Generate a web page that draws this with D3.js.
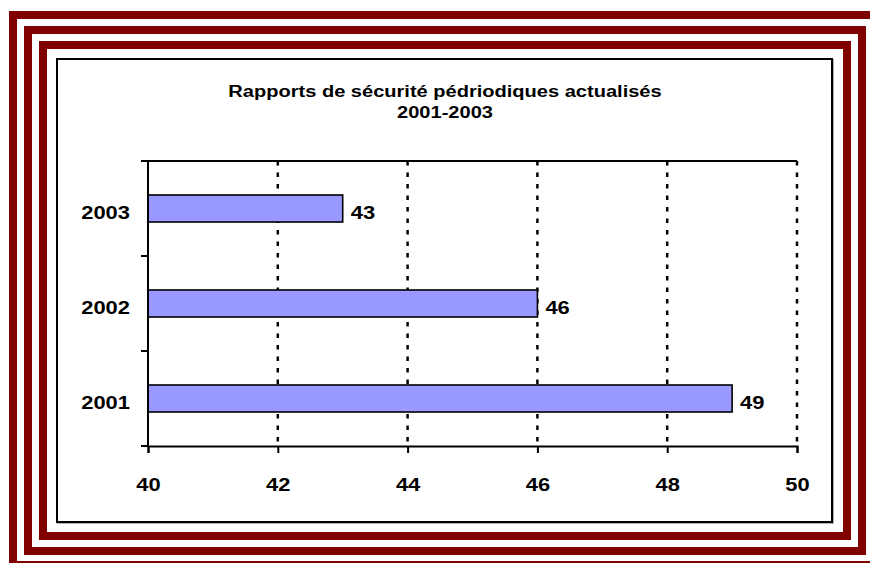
<!DOCTYPE html>
<html>
<head>
<meta charset="utf-8">
<script src="https://cdn.jsdelivr.net/npm/d3@7"></script>
<style>
  body { margin: 0; background: #fff; }
  svg { display: block; }
</style>
</head>
<body>
<svg id="chart" width="870" height="563"></svg>
<script>
// donnees
const years = ["2003", "2002", "2001"];
const reports = [43, 46, 49];
const xTicks = [40, 42, 44, 46, 48, 50];
const titleLines = ["Rapports de sécurité pédriodiques actualisés", "2001-2003"];

const svg = d3.select("#chart");
const font = "'Liberation Sans', Arial, sans-serif";
const stretch = "scale(1.18,1)"; // le texte de l'original est un peu elargi
const labelSize = 18.6;

// cadres rouges
const frames = [
  { x: 13, y: 15, w: 861, h: 550 },
  { x: 28, y: 30, w: 834, h: 521 },
  { x: 43, y: 45, w: 804, h: 491 }
];
svg.selectAll("rect.frame")
  .data(frames)
  .enter()
  .append("rect")
  .attr("class", "frame")
  .attr("x", d => d.x)
  .attr("y", d => d.y)
  .attr("width", d => d.w)
  .attr("height", d => d.h)
  .attr("fill", "none")
  .attr("stroke", "#800000")
  .attr("stroke-width", 8);

// boite du graphique (avec petite ombre grise)
svg.append("rect")
  .attr("x", 58).attr("y", 60).attr("width", 775).attr("height", 463)
  .attr("fill", "none").attr("stroke", "#b0b0b0").attr("stroke-width", 2);
svg.append("rect")
  .attr("x", 57).attr("y", 59).attr("width", 775).attr("height", 463)
  .attr("fill", "#fff").attr("stroke", "#000").attr("stroke-width", 2);

// titre
svg.append("text")
  .attr("transform", `translate(445,97) ${stretch}`)
  .attr("text-anchor", "middle")
  .attr("font-family", font).attr("font-weight", "bold").attr("font-size", 17)
  .selectAll("tspan")
  .data(titleLines)
  .enter()
  .append("tspan")
  .attr("x", 0)
  .attr("dy", (d, i) => i === 0 ? 0 : 21)
  .text(d => d);

const plotL = 148, plotR = 797, plotT = 161, plotB = 446;

const x = d3.scaleLinear().domain([40, 50]).range([plotL, plotR]);
const y = d3.scaleBand().domain(years).range([plotT, plotB]);
const barH = 27;

const g = svg.append("g");

// lignes de quadrillage pointillees
g.selectAll("line.grid")
  .data(xTicks.slice(1))
  .enter()
  .append("line")
  .attr("class", "grid")
  .attr("x1", d => x(d)).attr("x2", d => x(d))
  .attr("y1", plotT).attr("y2", plotB)
  .attr("stroke", "#000")
  .attr("stroke-width", 2.5)
  .attr("stroke-dasharray", "4.5,7");

// bord superieur
g.append("line")
  .attr("x1", plotL).attr("x2", plotR)
  .attr("y1", plotT).attr("y2", plotT)
  .attr("stroke", "#000").attr("stroke-width", 2);

// barres
g.selectAll("rect.bar")
  .data(reports)
  .enter()
  .append("rect")
  .attr("class", "bar")
  .attr("x", x(40))
  .attr("y", (d, i) => y(years[i]) + y.bandwidth() / 2 - barH / 2)
  .attr("width", d => x(d) - x(40))
  .attr("height", barH)
  .attr("fill", "#9999ff")
  .attr("stroke", "#000")
  .attr("stroke-width", 1.6);

// etiquettes des valeurs
g.selectAll("text.val")
  .data(reports)
  .enter()
  .append("text")
  .attr("class", "val")
  .attr("transform", (d, i) => `translate(${x(d) + 8},${y(years[i]) + y.bandwidth() / 2 + 10}) ${stretch}`)
  .attr("font-family", font).attr("font-weight", "bold").attr("font-size", labelSize)
  .text(d => d);

// axe X
const xAxis = g.append("g")
  .attr("transform", `translate(0,${plotB})`)
  .call(d3.axisBottom(x).tickValues(xTicks).tickSize(7).tickPadding(25).tickFormat(d3.format("d")));
xAxis.select(".domain").attr("stroke", "#000").attr("stroke-width", 2);
xAxis.selectAll(".tick line").attr("stroke", "#000").attr("stroke-width", 2);
xAxis.selectAll(".tick text")
  .attr("transform", stretch)
  .attr("font-family", font).attr("font-weight", "bold").attr("font-size", labelSize).attr("fill", "#000");

// axe Y : graduations aux limites des categories
const yEdges = years.map(d => y(d)).concat([plotB]);
g.selectAll("line.ytick")
  .data(yEdges)
  .enter()
  .append("line")
  .attr("class", "ytick")
  .attr("x1", plotL - 7).attr("x2", plotL)
  .attr("y1", d => d).attr("y2", d => d)
  .attr("stroke", "#000").attr("stroke-width", 2);
g.append("line")
  .attr("x1", plotL).attr("x2", plotL)
  .attr("y1", plotT).attr("y2", plotB)
  .attr("stroke", "#000").attr("stroke-width", 2);

g.selectAll("text.ylab")
  .data(years)
  .enter()
  .append("text")
  .attr("class", "ylab")
  .attr("transform", d => `translate(130,${y(d) + y.bandwidth() / 2 + 10}) ${stretch}`)
  .attr("text-anchor", "end")
  .attr("font-family", font).attr("font-weight", "bold").attr("font-size", labelSize)
  .text(d => d);
</script>
</body>
</html>
